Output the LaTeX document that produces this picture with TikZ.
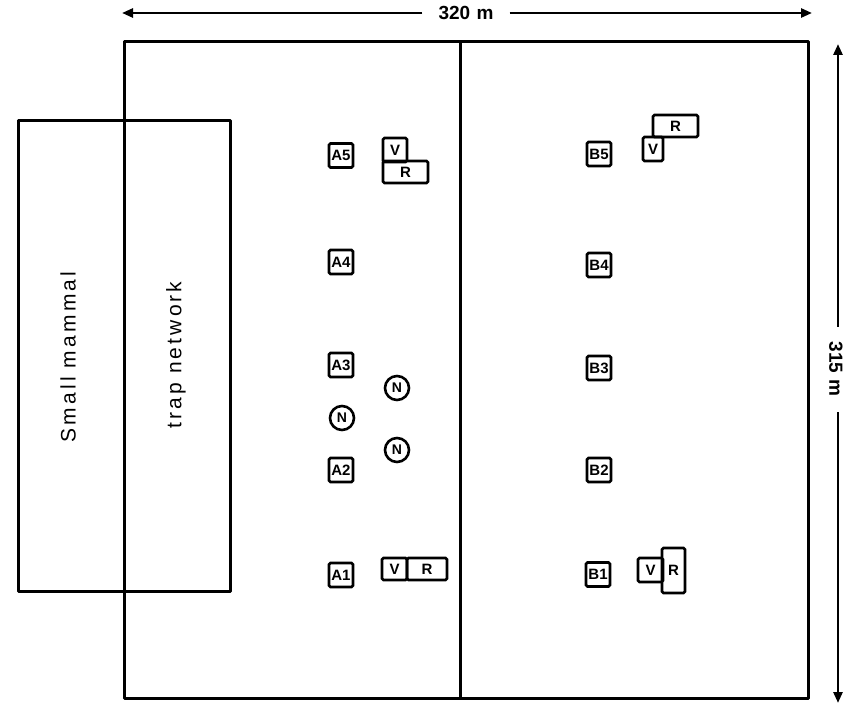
\documentclass[tikz,border=0pt]{standalone}
\usepackage{fontspec}
\setmainfont{Liberation Sans}
\newfontfamily\spacedfont[LetterSpace=15]{Liberation Sans}
\usetikzlibrary{arrows.meta}

\begin{document}
\begin{tikzpicture}[x=1pt,y=-1pt,
  frame/.style={line width=3pt, line cap=round, line join=round},
  dim/.style={line width=2.6pt, -{Triangle[length=11pt,width=9pt]}},
  dimlabel/.style={inner sep=0pt, font=\bfseries\fontsize{19}{19}\selectfont},
  plotbox/.style={draw, line width=2.6pt, rounded corners=1.5pt, inner sep=0pt,
    minimum width=24pt, minimum height=24pt, font=\bfseries\fontsize{15}{15}\selectfont},
  subbox/.style={draw, line width=2.6pt, rounded corners=1.5pt, inner sep=0pt,
    font=\bfseries\fontsize{15}{15}\selectfont},
  nest/.style={draw, circle, line width=2.6pt, inner sep=0pt, minimum size=24pt,
    font=\bfseries\fontsize{14}{14}\selectfont},
  traptext/.style={rotate=90, inner sep=0pt, font=\spacedfont\fontsize{21}{24}\selectfont}]

\useasboundingbox (0,0) rectangle (856,708);

% study area split into halves A and B
\draw[frame] (124,42) rectangle (808,698);
\draw[frame] (460,42) -- (460,698);

% small mammal trap network
\draw[frame] (18,121) rectangle (230,591);
\node[traptext] (sm) at (68,357) {Small mammal};
\node[traptext] (tn) at (176,355) {trap network};

% overall dimensions
\coordinate (wl) at (122,13);
\coordinate (wr) at (812,13);
\node[dimlabel] (wlab) at (466,13) {320\,\,m};
\draw[dim] ([xshift=-16pt]wlab.west) -- (wl);
\draw[dim] ([xshift=16pt]wlab.east) -- (wr);

\coordinate (ht) at (838,44);
\coordinate (hb) at (838,703);
\coordinate (hgt) at (838,327);
\coordinate (hgb) at (838,412);
\node[dimlabel, rotate=-90] (hlab) at (836,369) {315\,\,m};
\draw[dim] (hgt) -- (ht);
\draw[dim] (hgb) -- (hb);

% plots in half A
\node[plotbox] (A5) at (341,155.5) {A5};
\node[plotbox] (A4) at (341,262) {A4};
\node[plotbox] (A3) at (341,365) {A3};
\node[plotbox] (A2) at (341,470) {A2};
\node[plotbox] (A1) at (341,575) {A1};

% plots in half B
\node[plotbox] (B5) at (599,154) {B5};
\node[plotbox] (B4) at (599,265) {B4};
\node[plotbox] (B3) at (599,368) {B3};
\node[plotbox] (B2) at (599,470) {B2};
\node[plotbox] (B1) at (598,574.5) {B1};

% V and R plots
\node[subbox, minimum width=24pt, minimum height=24pt] (V5a) at (395,150) {V};
\node[subbox, minimum width=45pt, minimum height=22pt] (R5a) at (405.5,172) {R};

\node[subbox, minimum width=45pt, minimum height=22pt] (R5b) at (675.5,126) {R};
\node[subbox, minimum width=20pt, minimum height=24pt] (V5b) at (653,149) {V};

\node[subbox, minimum width=25pt, minimum height=22pt] (V1a) at (394.5,569) {V};
\node[subbox, minimum width=40pt, minimum height=22pt] (R1a) at (427,569) {R};

\node[subbox, minimum width=25pt, minimum height=24pt] (V1b) at (650.5,570) {V};
\node[subbox, minimum width=23pt, minimum height=45pt] (R1b) at (673.5,570.5) {R};

% N plots
\node[nest] (N1) at (397,388) {N};
\node[nest] (N2) at (342,418) {N};
\node[nest] (N3) at (397,450) {N};
\end{tikzpicture}
\end{document}
